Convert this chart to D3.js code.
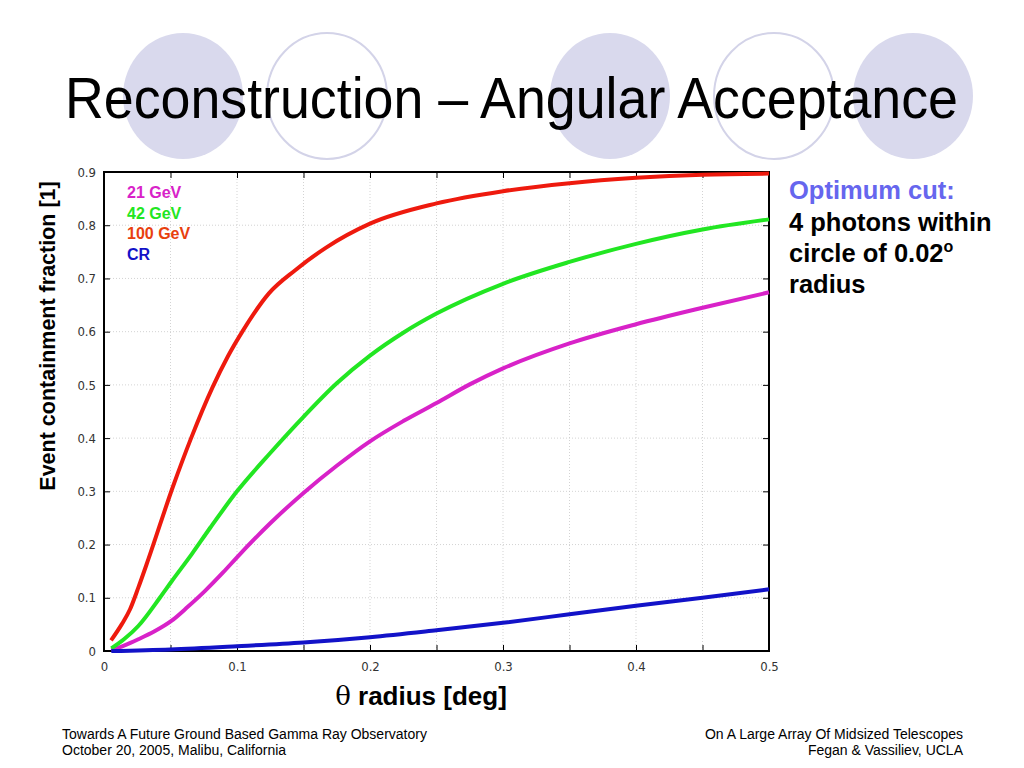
<!DOCTYPE html>
<html>
<head>
<meta charset="utf-8">
<script src="https://cdn.jsdelivr.net/npm/d3@7"></script>
<style>
body { margin: 0; background: #fff; }
svg { display: block; font-family: "Liberation Sans", Arial, sans-serif; }
</style>
</head>
<body>
<svg id="chart" width="1024" height="768"></svg>
<script>
// DATA
const X_TICKS = [0, 0.1, 0.2, 0.3, 0.4, 0.5];
const Y_TICKS = [0, 0.1, 0.2, 0.3, 0.4, 0.5, 0.6, 0.7, 0.8, 0.9];

const red100 = [[0.0053,0.02],[0.0133,0.05],[0.0195,0.078],[0.0258,0.119],[0.0333,0.172],[0.052,0.31],
  [0.0655,0.40],[0.0815,0.495],[0.093,0.553],[0.1047,0.603],[0.124,0.672],[0.144,0.716],[0.167,0.758],
  [0.2,0.803],[0.25,0.841],[0.3,0.864],[0.35,0.879],[0.4,0.889],[0.45,0.895],[0.5,0.897]];
const green42 = [[0.0055,0.005],[0.015,0.022],[0.0258,0.047],[0.042,0.10],[0.0509,0.131],[0.066,0.182],
  [0.08,0.232],[0.1,0.30],[0.125,0.372],[0.15,0.44],[0.175,0.503],[0.2,0.555],[0.225,0.598],
  [0.25,0.634],[0.3,0.69],[0.35,0.731],[0.4,0.765],[0.45,0.792],[0.5,0.811]];
const magenta21 = [[0.0055,0.001],[0.015,0.01],[0.0258,0.022],[0.038,0.037],[0.0509,0.057],[0.063,0.083],
  [0.076,0.113],[0.0897,0.148],[0.1,0.176],[0.125,0.24],[0.15,0.297],[0.175,0.348],[0.2,0.394],
  [0.225,0.432],[0.25,0.466],[0.275,0.501],[0.3,0.531],[0.35,0.578],[0.4,0.614],[0.45,0.645],[0.5,0.674]];
const blueCR = [[0.0055,0],[0.05,0.003],[0.1,0.009],[0.15,0.016],[0.2,0.026],[0.25,0.039],[0.3,0.053],
  [0.35,0.069],[0.4,0.085],[0.45,0.10],[0.5,0.116]];

const SERIES = [
  {name: "21 GeV", color: "#d822c8", pts: magenta21},
  {name: "42 GeV", color: "#22e622", pts: green42},
  {name: "100 GeV", color: "#ee1a0e", pts: red100, label: "#e8400e"},
  {name: "CR", color: "#1212c8", pts: blueCR}
];

const svg = d3.select("#chart");

// decorative circles behind the title
const CIRCLES = [{cx:183, fill:true},{cx:327, fill:false},{cx:610, fill:true},{cx:774, fill:false},{cx:913, fill:true}];
svg.selectAll(".deco").data(CIRCLES).enter().append("ellipse")
  .attr("class","deco")
  .attr("cx", d=>d.cx).attr("cy", 96).attr("rx", 60).attr("ry", 63)
  .attr("fill", d=>d.fill ? "#d9d9ed" : "#fff")
  .attr("stroke", d=>d.fill ? "none" : "#d3d3e8")
  .attr("stroke-width", 2);

svg.append("text")
  .attr("x", 65).attr("y", 118)
  .attr("font-size", 58)
  .attr("textLength", 893).attr("lengthAdjust", "spacingAndGlyphs")
  .text("Reconstruction – Angular Acceptance");

// SCALES
const x = d3.scaleLinear().domain([0, 0.5]).range([104, 769]);
const y = d3.scaleLinear().domain([0, 0.9]).range([651, 172]);

const plot = svg.append("g");

// grid
const xMinor = d3.range(0, 0.5001, 0.05);
plot.selectAll(".gx").data(xMinor.slice(1, -1)).enter().append("line")
  .attr("x1", d=>x(d)).attr("x2", d=>x(d)).attr("y1", y(0)).attr("y2", y(0.9))
  .attr("stroke", "#c8c8c8").attr("stroke-width", 0.8).attr("stroke-dasharray", "1,2");
plot.selectAll(".gy").data(Y_TICKS.slice(1, -1)).enter().append("line")
  .attr("x1", x(0)).attr("x2", x(0.5)).attr("y1", d=>y(d)).attr("y2", d=>y(d))
  .attr("stroke", "#c8c8c8").attr("stroke-width", 0.8).attr("stroke-dasharray", "1,2");

// axes with inward ticks
const tickFmt = d=> d === 0 ? "0" : d3.format(".1f")(d);
const xb = plot.append("g").attr("transform", `translate(0,${y(0)})`)
  .call(d3.axisBottom(x).tickValues(xMinor).tickSize(-6).tickFormat(d=> X_TICKS.some(t=>Math.abs(t-d)<1e-9) ? tickFmt(d) : ""));
const xt = plot.append("g").attr("transform", `translate(0,${y(0.9)})`)
  .call(d3.axisTop(x).tickValues(xMinor).tickSize(-6).tickFormat(""));
const yl = plot.append("g").attr("transform", `translate(${x(0)},0)`)
  .call(d3.axisLeft(y).tickValues(Y_TICKS).tickSize(-6).tickFormat(tickFmt));
const yr = plot.append("g").attr("transform", `translate(${x(0.5)},0)`)
  .call(d3.axisRight(y).tickValues(Y_TICKS).tickSize(-6).tickFormat(""));
[xb, xt, yl, yr].forEach(g=>{
  g.select(".domain").remove();
  g.selectAll(".tick line").attr("stroke", "#000").attr("stroke-width", 1);
  g.selectAll(".tick text").attr("font-size", 13).attr("fill", "#333")
    .attr("font-family", "'DejaVu Sans Condensed', 'Liberation Sans', sans-serif");
});
xb.selectAll(".tick text").attr("dy", "1.1em").attr("y", 6);
yl.selectAll(".tick text").attr("x", -8);

// frame
plot.append("rect")
  .attr("x", x(0)).attr("y", y(0.9)).attr("width", x(0.5)-x(0)).attr("height", y(0)-y(0.9))
  .attr("fill", "none").attr("stroke", "#000").attr("stroke-width", 2);

// curves
const line = d3.line().x(d=>x(d[0])).y(d=>y(d[1])).curve(d3.curveMonotoneX);
plot.selectAll(".curve").data(SERIES).enter().append("path")
  .attr("class","curve")
  .attr("d", d=>line(d.pts))
  .attr("fill", "none").attr("stroke", d=>d.color).attr("stroke-width", 4)
  .attr("stroke-linejoin", "round");

// legend
svg.selectAll(".leg").data(SERIES).enter().append("text")
  .attr("x", 127).attr("y", (d,i)=>198 + i*20.5)
  .attr("font-size", 16).attr("font-weight", "bold")
  .attr("fill", d=>d.label || d.color)
  .text(d=>d.name);

// axis titles
svg.append("text")
  .attr("transform", "translate(55,336) rotate(-90)")
  .attr("text-anchor", "middle").attr("font-size", 21.5).attr("font-weight", "bold")
  .text("Event containment fraction [1]");

const xt2 = svg.append("text").attr("x", 421).attr("y", 705)
  .attr("text-anchor", "middle").attr("font-size", 26).attr("font-weight", "bold");
xt2.append("tspan").attr("font-weight", "normal").attr("font-family", "'DejaVu Serif', serif").text("θ");
xt2.append("tspan").text(" radius [deg]");

// annotation
const NOTE = ["4 photons within", "circle of 0.02", "radius"];
svg.append("text").attr("x", 789).attr("y", 199)
  .attr("font-size", 25.5).attr("font-weight", "bold").attr("fill", "#6666ee")
  .text("Optimum cut:");
NOTE.forEach((t,i)=>{
  const tx = svg.append("text").attr("x", 789).attr("y", 231 + i*31)
    .attr("font-size", 25.5).attr("font-weight", "bold").attr("fill", "#000").text(t);
  if (i === 1) tx.append("tspan").attr("dy", -10).attr("font-size", 16).text("o");
});

// footer
const FOOT_L = ["Towards A Future Ground Based Gamma Ray Observatory", "October 20, 2005, Malibu, California"];
const FOOT_R = ["On A Large Array Of Midsized Telescopes", "Fegan & Vassiliev, UCLA"];
FOOT_L.forEach((t,i)=> svg.append("text").attr("x", 62).attr("y", 739 + i*16)
  .attr("font-size", 14).text(t));
FOOT_R.forEach((t,i)=> svg.append("text").attr("x", 963).attr("y", 739 + i*16)
  .attr("text-anchor", "end").attr("font-size", 14).text(t));
</script>
</body>
</html>
